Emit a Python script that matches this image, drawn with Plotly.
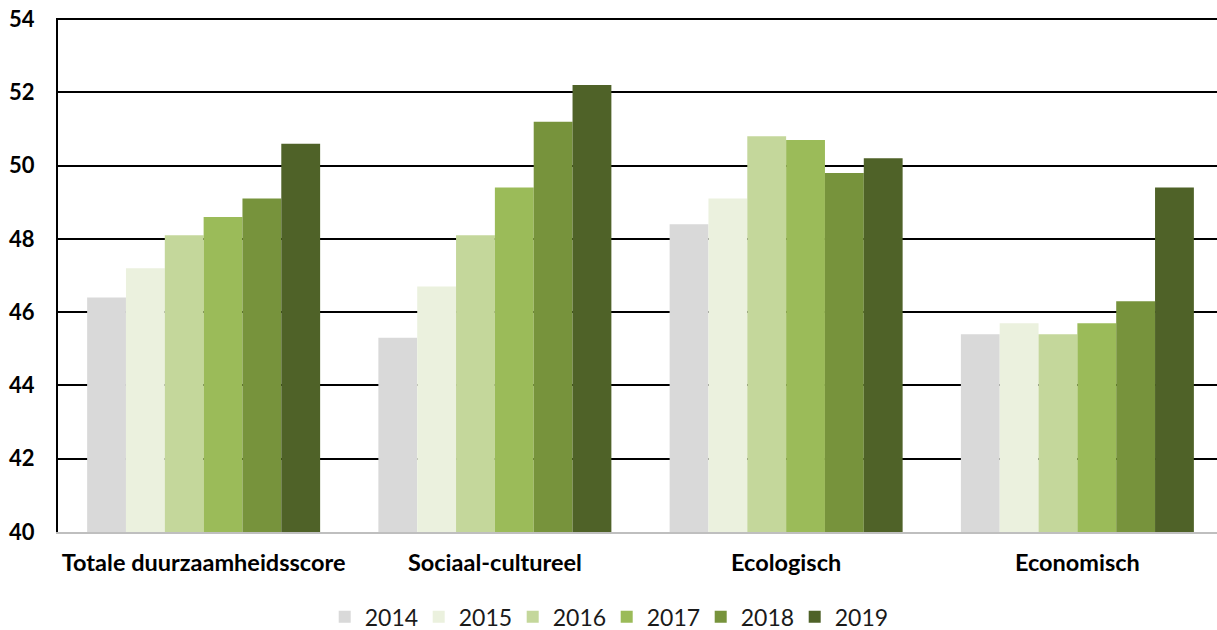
import plotly.graph_objects as go

categories = ["Totale duurzaamheidsscore", "Sociaal-cultureel", "Ecologisch", "Economisch"]
years = ["2014", "2015", "2016", "2017", "2018", "2019"]
values_2014 = [46.4, 45.3, 48.4, 45.4]
values_2015 = [47.2, 46.7, 49.1, 45.7]
values_2016 = [48.1, 48.1, 50.8, 45.4]
values_2017 = [48.6, 49.4, 50.7, 45.7]
values_2018 = [49.1, 51.2, 49.8, 46.3]
values_2019 = [50.6, 52.2, 50.2, 49.4]
series = [values_2014, values_2015, values_2016, values_2017, values_2018, values_2019]
colors = ["#D9D9D9", "#EBF1DE", "#C4D79B", "#9BBB59", "#77933C", "#4F6228"]
y_ticks = [40, 42, 44, 46, 48, 50, 52, 54]

fig = go.Figure()
for yr, vals, col in zip(years, series, colors):
    fig.add_trace(go.Bar(x=categories, y=vals, name=yr, marker=dict(color=col, line=dict(width=0))))

fig.update_layout(
    width=1223, height=630,
    margin=dict(l=58, r=0, t=18, b=98),
    plot_bgcolor="white", paper_bgcolor="white",
    barmode="group", bargap=0.2, bargroupgap=0,
    font=dict(family="Lato", color="black"),
    legend=dict(orientation="h", xref="container", yref="container",
                x=0.2655, xanchor="left", y=0.021, yanchor="middle",
                font=dict(family="Lato", size=23, color="#1a1a1a"), itemwidth=30,
                entrywidth=49, entrywidthmode="pixels",
                traceorder="normal"),
    xaxis=dict(showline=True, linecolor="#BFBFBF", linewidth=2, ticks="", automargin=False,
               tickfont=dict(family="Lato", size=23.5, weight="bold"), ticklabelstandoff=9),
    yaxis=dict(range=[40, 54.03], tickvals=y_ticks, showgrid=True, gridcolor="black", gridwidth=2,
               showline=True, linecolor="black", linewidth=2, ticks="", automargin=False,
               tickfont=dict(family="Lato", size=22, weight="bold"), ticklabelstandoff=17,
               zeroline=False),
)
fig.write_html("out.html", config={"displayModeBar": False},
               post_script="document.body.style.margin='0';document.body.style.overflow='hidden';")
